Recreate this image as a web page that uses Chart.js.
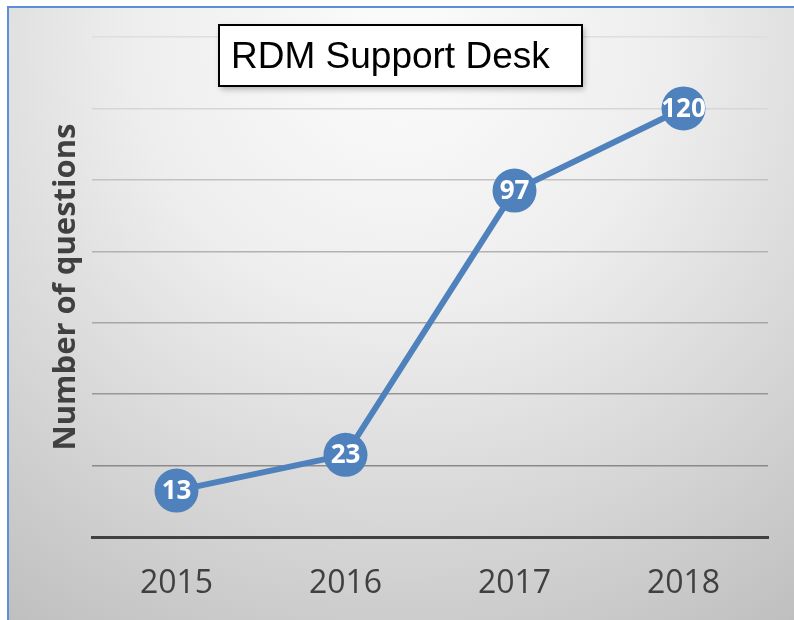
<!DOCTYPE html>
<html>
<head>
<meta charset="utf-8">
<script src="https://cdn.jsdelivr.net/npm/chart.js@4.4.0/dist/chart.umd.min.js"></script>
<style>
html,body{margin:0;padding:0;background:#fff;}
#wrap{width:794px;height:620px;position:relative;}
</style>
</head>
<body>
<div id="wrap"><canvas id="c" width="794" height="620"></canvas></div>
<script>
const categories = ['2015', '2016', '2017', '2018'];
const questions = [13, 23, 97, 120];
const yTicks = [0, 20, 40, 60, 80, 100, 120, 140];
const chartTitle = 'RDM Support Desk';
const yTitle = 'Number of questions';

const gridColors = {0:'rgba(0,0,0,0)',20:'#8a8a8a',40:'#979797',60:'#a6a6a6',80:'#b2b2b2',100:'#c2c2c2',120:'#d6d6d6',140:'#dedede'};

const bgPlugin = {
  id: 'bg',
  beforeDraw(chart) {
    const ctx = chart.ctx;
    ctx.save();
    ctx.fillStyle = '#ffffff';
    ctx.fillRect(0, 0, 794, 620);
    const g = ctx.createRadialGradient(400, 40, 20, 400, 40, 720);
    g.addColorStop(0, '#fbfbfb');
    g.addColorStop(0.35, '#eeeeee');
    g.addColorStop(0.7, '#d4d4d4');
    g.addColorStop(1, '#bdbdbd');
    ctx.fillStyle = g;
    ctx.fillRect(8, 7, 786, 613);
    ctx.strokeStyle = '#5b8fd6';
    ctx.lineWidth = 2;
    ctx.beginPath();
    ctx.moveTo(8, 620);
    ctx.lineTo(8, 7);
    ctx.lineTo(794, 7);
    ctx.stroke();
    ctx.restore();
  },
  afterDatasetsDraw(chart) {
    const ctx = chart.ctx;
    const meta = chart.getDatasetMeta(0);
    ctx.save();
    ctx.fillStyle = '#ffffff';
    ctx.font = 'bold 26px "Open Sans"';
    ctx.textAlign = 'center';
    ctx.textBaseline = 'middle';
    meta.data.forEach((pt, i) => {
      ctx.fillText(String(questions[i]), pt.x, pt.y + 1);
    });
    ctx.restore();
  },
  afterDraw(chart) {
    const ctx = chart.ctx;
    ctx.save();
    ctx.shadowColor = 'rgba(0,0,0,0.3)';
    ctx.shadowBlur = 6;
    ctx.shadowOffsetX = 2;
    ctx.shadowOffsetY = 3;
    ctx.fillStyle = '#ffffff';
    ctx.fillRect(219, 25, 363, 61);
    ctx.shadowColor = 'transparent';
    ctx.strokeStyle = '#000000';
    ctx.lineWidth = 2;
    ctx.strokeRect(219, 25, 363, 61);
    ctx.fillStyle = '#000000';
    ctx.font = '37px "Liberation Sans"';
    ctx.textAlign = 'left';
    ctx.textBaseline = 'middle';
    ctx.fillText(chartTitle, 231, 58);
    ctx.restore();
  }
};

new Chart(document.getElementById('c'), {
  type: 'line',
  data: {
    labels: categories,
    datasets: [{
      data: questions,
      borderColor: '#4f81bd',
      backgroundColor: '#4f81bd',
      borderWidth: 6,
      pointRadius: 22,
      pointHoverRadius: 22,
      pointBackgroundColor: '#4f81bd',
      pointBorderColor: '#4f81bd',
      pointBorderWidth: 0,
      tension: 0,
      clip: false
    }]
  },
  options: {
    responsive: false,
    animation: false,
    events: [],
    layout: { padding: { left: 8, top: 37, right: 26, bottom: 0 } },
    plugins: { legend: { display: false }, tooltip: { enabled: false } },
    scales: {
      x: {
        offset: true,
        grid: { display: false, drawTicks: false },
        border: { display: true, color: '#404040', width: 3 },
        ticks: { color: '#404040', font: { family: 'Open Sans', size: 32 }, padding: 28 },
        afterFit(s) { s.height = 83; }
      },
      y: {
        min: 0, max: 140,
        afterBuildTicks(s) { s.ticks = yTicks.map(v => ({ value: v })); },
        grid: {
          color: (c) => gridColors[c.tick ? c.tick.value : 0] || '#cccccc',
          lineWidth: 1.5,
          drawTicks: false
        },
        border: { display: false },
        ticks: { display: false },
        title: {
          display: true,
          text: yTitle,
          color: '#404040',
          font: { family: 'Open Sans', size: 31, weight: 'bold' },
          padding: { top: 40, bottom: 0 }
        },
        afterFit(s) { s.width = 84; }
      }
    }
  },
  plugins: [bgPlugin]
});
</script>
</body>
</html>
